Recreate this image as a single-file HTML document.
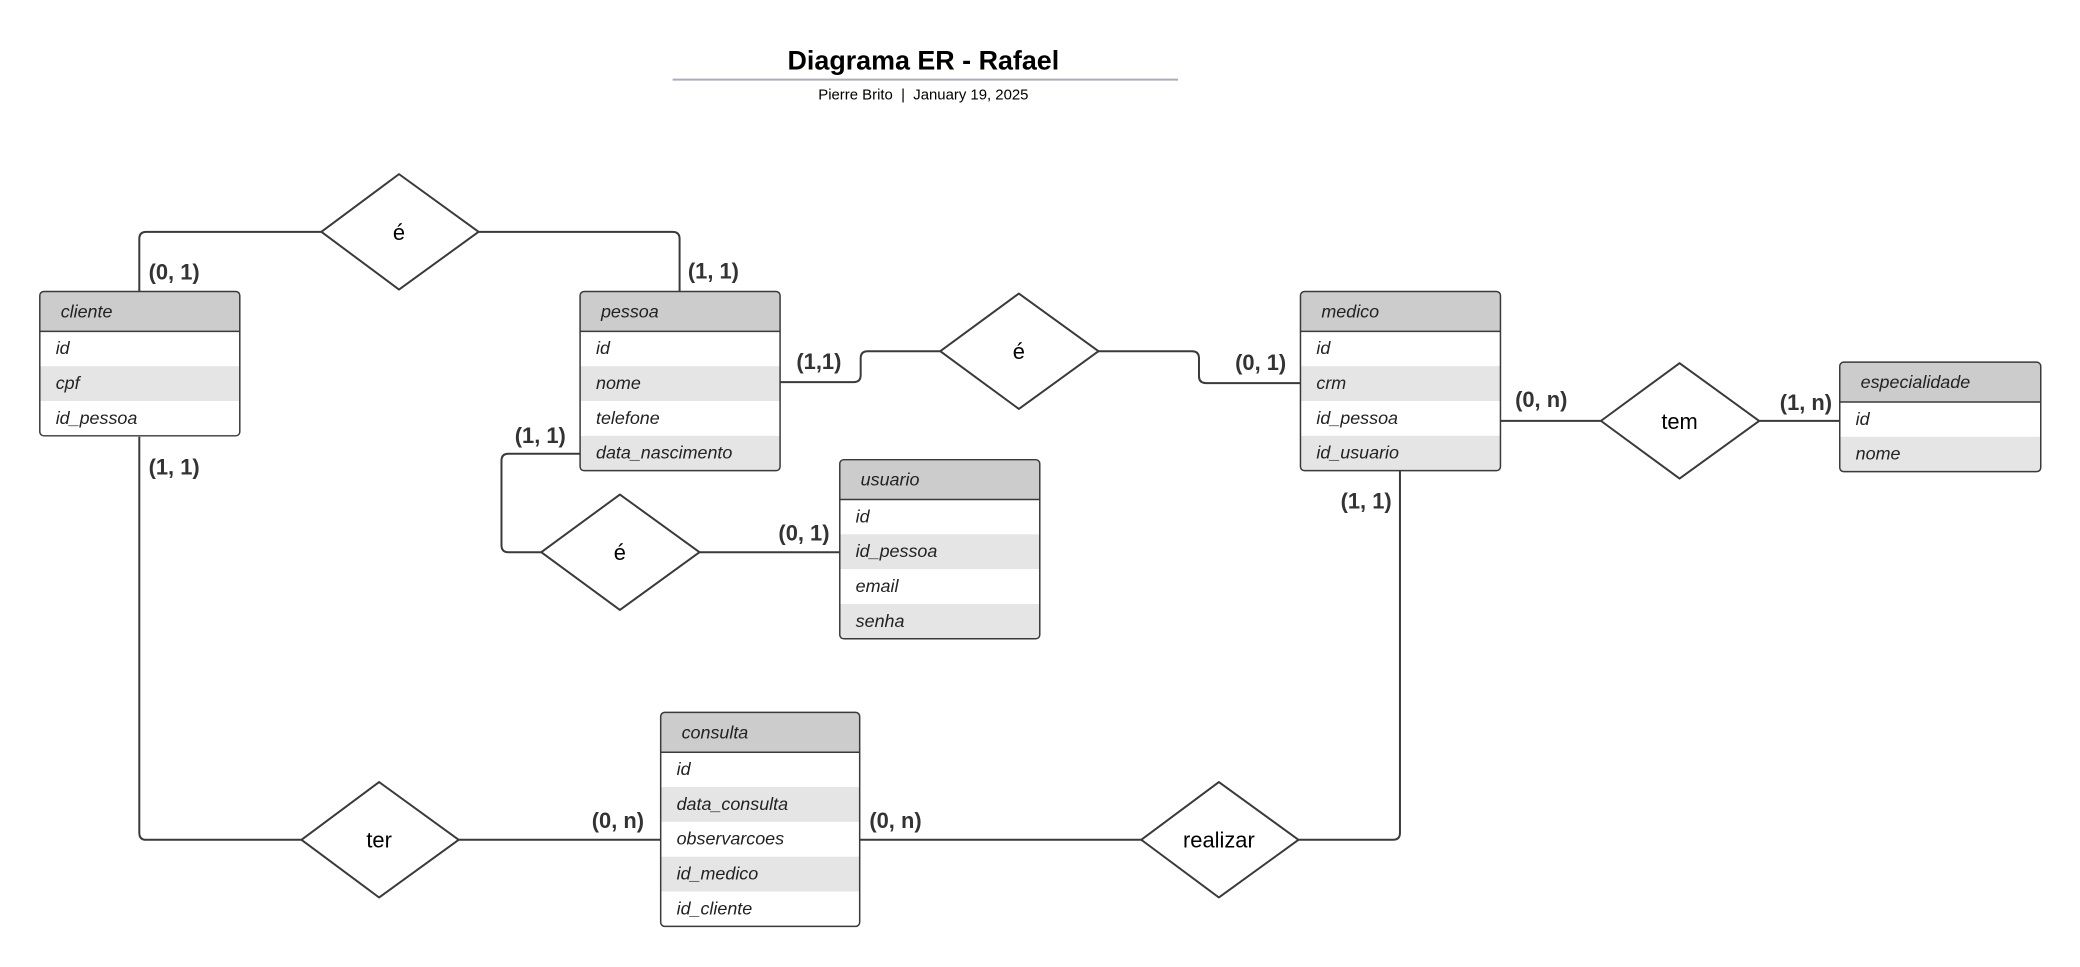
<!DOCTYPE html>
<html><head><meta charset="utf-8"><style>
html,body{margin:0;padding:0;background:#fff;}
svg{display:block;}
.t{font-family:"Liberation Sans",sans-serif;}
.f{font-family:"Liberation Sans",sans-serif;font-style:italic;font-size:18px;fill:#222;}
.c{font-family:"Liberation Sans",sans-serif;font-weight:bold;font-size:22px;fill:#333;}
.d{font-family:"Liberation Sans",sans-serif;font-size:22px;fill:#000;text-anchor:middle;}
.ln{fill:none;stroke:#3a3a3a;stroke-width:2;stroke-linejoin:round;}
.dm{fill:#fff;stroke:#3a3a3a;stroke-width:2;stroke-linejoin:round;}
</style></head><body>
<svg width="2080" height="967" viewBox="0 0 2080 967" xmlns="http://www.w3.org/2000/svg">
<rect width="2080" height="967" fill="#fff"/>
<g transform="scale(0.995)">
<text x="928" y="70" class="t" font-size="27" font-weight="bold" text-anchor="middle">Diagrama ER - Rafael</text>
<line x1="676" y1="80" x2="1184" y2="80" stroke="#a9adb8" stroke-width="2"/>
<text x="928" y="100" class="t" font-size="15" text-anchor="middle">Pierre Brito&#160; | &#160;January 19, 2025</text>

<path class="ln" d="M140 293 V240 Q140 233 147 233 H323"/>
<path class="ln" d="M481 233 H676 Q683 233 683 240 V293"/>
<path class="ln" d="M784 384 H858 Q865 384 865 377 V360 Q865 353 872 353 H945"/>
<path class="ln" d="M1104 353 H1198 Q1205 353 1205 360 V378 Q1205 385 1212 385 H1307"/>
<path class="ln" d="M583 456 H511 Q504 456 504 463 V548 Q504 555 511 555 H544"/>
<path class="ln" d="M703 555 H844"/>
<path class="ln" d="M1508 423 H1609"/>
<path class="ln" d="M1768 423 H1849"/>
<path class="ln" d="M140 439 V837 Q140 844 147 844 H303"/>
<path class="ln" d="M461 844 H664"/>
<path class="ln" d="M864 844 H1147"/>
<path class="ln" d="M1305 844 H1400 Q1407 844 1407 837 V473"/>

<g>
<path class="dm" d="M401 175 L481 233 L401 291 L323 233 Z"/><text x="401" y="241" class="d">é</text>
<path class="dm" d="M1024 295 L1104 353 L1024 411 L945 353 Z"/><text x="1024" y="361" class="d">é</text>
<path class="dm" d="M623 497 L703 555 L623 613 L544 555 Z"/><text x="623" y="563" class="d">é</text>
<path class="dm" d="M1688 365 L1768 423 L1688 481 L1609 423 Z"/><text x="1688" y="431" class="d">tem</text>
<path class="dm" d="M381 786 L461 844 L381 902 L303 844 Z"/><text x="381" y="852" class="d">ter</text>
<path class="dm" d="M1225 786 L1305 844 L1225 902 L1147 844 Z"/><text x="1225" y="852" class="d">realizar</text>
</g>

<g transform="translate(40,293)">
<rect x="0" y="0" width="201" height="145" rx="4" fill="#fff"/>
<path d="M0 40 V4 Q0 0 4 0 H197 Q201 0 201 4 V40 Z" fill="#ccc"/>
<rect x="0" y="75" width="201" height="35" fill="#e5e5e5"/>
<line x1="0" y1="40" x2="201" y2="40" stroke="#3a3a3a" stroke-width="1.5"/>
<rect x="0" y="0" width="201" height="145" rx="4" fill="none" stroke="#3a3a3a" stroke-width="1.5"/>
<text x="21" y="26" class="f">cliente</text>
<text x="16" y="63" class="f">id</text><text x="16" y="98" class="f">cpf</text><text x="16" y="133" class="f">id_pessoa</text>
</g>
<g transform="translate(583,293)">
<path d="M0 40 V4 Q0 0 4 0 H197 Q201 0 201 4 V40 Z" fill="#ccc"/>
<rect x="0" y="75" width="201" height="35" fill="#e5e5e5"/>
<rect x="0" y="145" width="201" height="35" fill="#e5e5e5"/>
<line x1="0" y1="40" x2="201" y2="40" stroke="#3a3a3a" stroke-width="1.5"/>
<rect x="0" y="0" width="201" height="180" rx="4" fill="none" stroke="#3a3a3a" stroke-width="1.5"/>
<text x="21" y="26" class="f">pessoa</text>
<text x="16" y="63" class="f">id</text><text x="16" y="98" class="f">nome</text><text x="16" y="133" class="f">telefone</text><text x="16" y="168" class="f">data_nascimento</text>
</g>
<g transform="translate(1307,293)">
<path d="M0 40 V4 Q0 0 4 0 H197 Q201 0 201 4 V40 Z" fill="#ccc"/>
<rect x="0" y="75" width="201" height="35" fill="#e5e5e5"/>
<rect x="0" y="145" width="201" height="35" fill="#e5e5e5"/>
<line x1="0" y1="40" x2="201" y2="40" stroke="#3a3a3a" stroke-width="1.5"/>
<rect x="0" y="0" width="201" height="180" rx="4" fill="none" stroke="#3a3a3a" stroke-width="1.5"/>
<text x="21" y="26" class="f">medico</text>
<text x="16" y="63" class="f">id</text><text x="16" y="98" class="f">crm</text><text x="16" y="133" class="f">id_pessoa</text><text x="16" y="168" class="f">id_usuario</text>
</g>
<g transform="translate(1849,364)">
<path d="M0 40 V4 Q0 0 4 0 H198 Q202 0 202 4 V40 Z" fill="#ccc"/>
<rect x="0" y="75" width="202" height="35" fill="#e5e5e5"/>
<line x1="0" y1="40" x2="202" y2="40" stroke="#3a3a3a" stroke-width="1.5"/>
<rect x="0" y="0" width="202" height="110" rx="4" fill="none" stroke="#3a3a3a" stroke-width="1.5"/>
<text x="21" y="26" class="f">especialidade</text>
<text x="16" y="63" class="f">id</text><text x="16" y="98" class="f">nome</text>
</g>
<g transform="translate(844,462)">
<path d="M0 40 V4 Q0 0 4 0 H197 Q201 0 201 4 V40 Z" fill="#ccc"/>
<rect x="0" y="75" width="201" height="35" fill="#e5e5e5"/>
<rect x="0" y="145" width="201" height="35" fill="#e5e5e5"/>
<line x1="0" y1="40" x2="201" y2="40" stroke="#3a3a3a" stroke-width="1.5"/>
<rect x="0" y="0" width="201" height="180" rx="4" fill="none" stroke="#3a3a3a" stroke-width="1.5"/>
<text x="21" y="26" class="f">usuario</text>
<text x="16" y="63" class="f">id</text><text x="16" y="98" class="f">id_pessoa</text><text x="16" y="133" class="f">email</text><text x="16" y="168" class="f">senha</text>
</g>
<g transform="translate(664,716)">
<path d="M0 40 V4 Q0 0 4 0 H196 Q200 0 200 4 V40 Z" fill="#ccc"/>
<rect x="0" y="75" width="200" height="35" fill="#e5e5e5"/>
<rect x="0" y="145" width="200" height="35" fill="#e5e5e5"/>
<line x1="0" y1="40" x2="200" y2="40" stroke="#3a3a3a" stroke-width="1.5"/>
<rect x="0" y="0" width="200" height="215" rx="4" fill="none" stroke="#3a3a3a" stroke-width="1.5"/>
<text x="21" y="26" class="f">consulta</text>
<text x="16" y="63" class="f">id</text><text x="16" y="98" class="f">data_consulta</text><text x="16" y="133" class="f">observarcoes</text><text x="16" y="168" class="f">id_medico</text><text x="16" y="203" class="f">id_cliente</text>
</g>

<g text-anchor="middle">
<text x="175" y="281" class="c">(0, 1)</text>
<text x="717" y="280" class="c">(1, 1)</text>
<text x="175" y="477" class="c">(1, 1)</text>
<text x="823" y="371" class="c">(1,1)</text>
<text x="1267" y="372" class="c">(0, 1)</text>
<text x="543" y="445" class="c">(1, 1)</text>
<text x="808" y="543" class="c">(0, 1)</text>
<text x="1549" y="409" class="c">(0, n)</text>
<text x="1815" y="412" class="c">(1, n)</text>
<text x="1373" y="511" class="c">(1, 1)</text>
<text x="621" y="832" class="c">(0, n)</text>
<text x="900" y="832" class="c">(0, n)</text>
</g>
</g>
</svg>
</body></html>
